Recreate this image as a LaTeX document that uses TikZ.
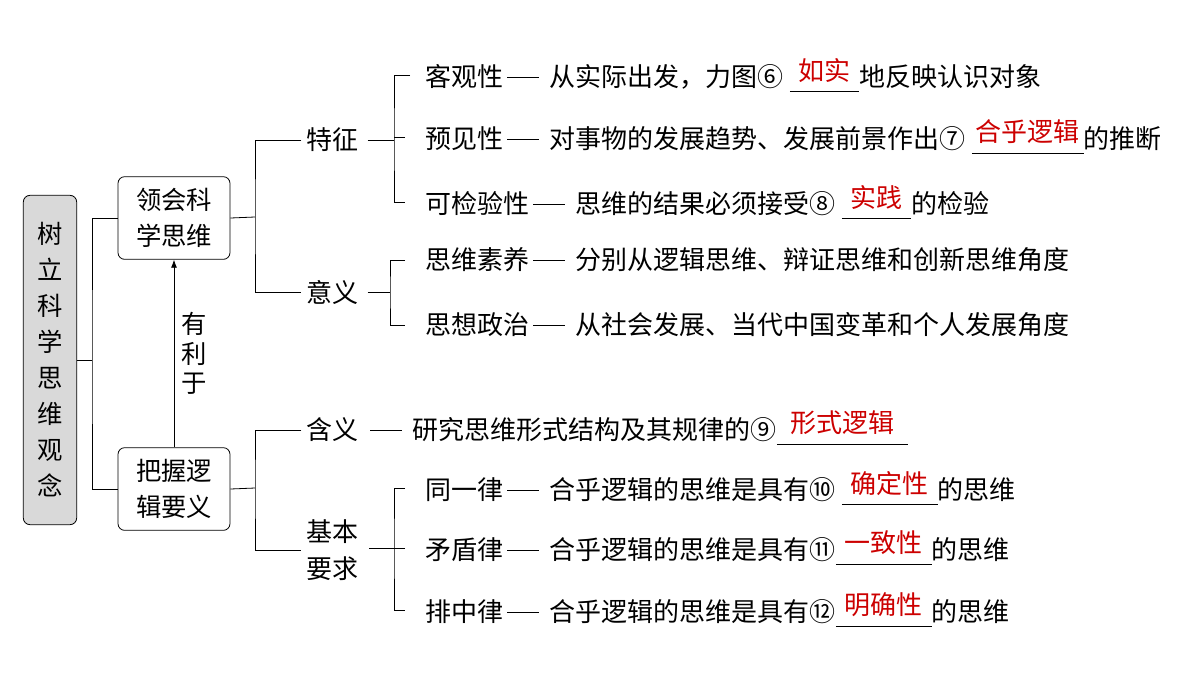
\documentclass[tikz,border=0pt]{standalone}
\usepackage{fontspec}
\setmainfont{Noto Sans CJK SC}
\usetikzlibrary{positioning,arrows.meta}
\tikzset{my_box/.style={draw, rounded corners=5pt, semithick, inner sep=4pt, align=center, font=\fontsize{19pt}{27pt}\selectfont}}
\tikzset{my_root/.style={my_box, fill=black!15, minimum width=40pt, minimum height=247pt}}
\tikzset{my_head/.style={font=\fontsize{19.5pt}{28pt}\selectfont, align=center}}
\tikzset{my_item/.style={anchor=west, inner sep=0pt, font=\fontsize{19.5pt}{22pt}\selectfont}}
\tikzset{my_line/.style={semithick}}
\newcommand{\answer}[2]{\makebox[#1][c]{\raisebox{5pt}{\textcolor{red!80!black}{#2}}}\llap{\rule[-4pt]{#1}{0.5pt}}}
\newcommand{\dash}{\hspace{3pt}\rule[6.5pt]{24pt}{0.6pt}\hspace{8pt}}
\begin{document}
\begin{tikzpicture}[x=0.75pt,y=-0.75pt]
    \useasboundingbox (0,0) rectangle (1200,676);
    % boxes
    \node[my_root] (root) at (50,360) {树\\立\\科\\学\\思\\维\\观\\念};
    \node[my_box, minimum width=84pt, minimum height=62pt] (think) at (174,218) {领会科\\学思维};
    \node[my_box, minimum width=84pt, minimum height=62pt] (logic) at (174,489) {把握逻\\辑要义};
    \draw[my_line, -{Latex[length=6pt]}] (logic.north) -- (think.south)
        node[midway, right=2pt, my_head, font=\fontsize{19pt}{22pt}\selectfont] {有\\利\\于};
    % headings
    \node[my_head] (feat) at (332,140) {特征};
    \node[my_head] (mean) at (332,292) {意义};
    \node[my_head] (def) at (332,430) {含义};
    \node[my_head] (req) at (332,550) {基本\\要求};
    % root bracket
    \draw[my_line] (root.east) -- (92,360);
    \draw[my_line] (think.west) -| (92,360) |- (logic.west);
    % second level brackets
    \draw[my_line] (think.east) -- (255,217);
    \draw[my_line] (feat.west) -| (255,217) |- (mean.west);
    \draw[my_line] (logic.east) -- (255,488);
    \draw[my_line] (def.west) -| (255,488) |- (req.west);
    % items
    \node[my_item] (i6) at (425,75) {客观性\dash 从实际出发，力图⑥ \answer{52pt}{如实}地反映认识对象};
    \node[my_item] (i7) at (425,137) {预见性\dash 对事物的发展趋势、发展前景作出⑦ \answer{84pt}{合乎逻辑}的推断};
    \node[my_item] (i8) at (425,202) {可检验性\dash 思维的结果必须接受⑧ \answer{52pt}{实践}的检验};
    \node[my_item] (s1) at (425,260) {思维素养\dash 分别从逻辑思维、辩证思维和创新思维角度};
    \node[my_item] (s2) at (425,325) {思想政治\dash 从社会发展、当代中国变革和个人发展角度};
    \node[my_item] (i9) at (366,428) {\dash 研究思维形式结构及其规律的⑨\answer{98pt}{形式逻辑}};
    \node[my_item] (i10) at (425,488) {同一律\dash 合乎逻辑的思维是具有⑩ \answer{72pt}{确定性}的思维};
    \node[my_item] (i11) at (425,548) {矛盾律\dash 合乎逻辑的思维是具有⑪\answer{72pt}{一致性}的思维};
    \node[my_item] (i12) at (425,610) {排中律\dash 合乎逻辑的思维是具有⑫\answer{72pt}{明确性}的思维};
    % third level brackets
    \draw[my_line] (feat.east) ++(5,0) -- (394,140);
    \draw[my_line] (i6.west) ++(-15,0) -| (394,140) |- ([xshift=-15]i8.west);
    \draw[my_line] ([xshift=-15]i7.west) -- (394,137);
    \draw[my_line] (mean.east) ++(5,0) -- (390,292);
    \draw[my_line] ([xshift=-15]s1.west) -| (390,292) |- ([xshift=-15]s2.west);
    \draw[my_line] ([xshift=5]req.east |- 0,548) -- (394,548);
    \draw[my_line] ([xshift=-15]i10.west) -| (394,548) |- ([xshift=-15]i12.west);
    \draw[my_line] ([xshift=-15]i11.west) -- (394,548);
\end{tikzpicture}
\end{document}
